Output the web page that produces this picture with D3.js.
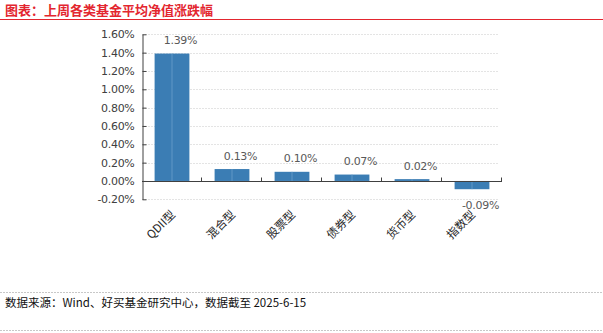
<!DOCTYPE html>
<html>
<head>
<meta charset="utf-8">
<script src="https://cdn.jsdelivr.net/npm/d3@7/dist/d3.min.js"></script>
<style>
  html, body { margin: 0; padding: 0; background: #fff; }
  svg { display: block; font-family: "Microsoft YaHei", "Noto Sans CJK SC", sans-serif; }
</style>
</head>
<body>
<svg id="chart" width="603" height="333"></svg>
<script>
// Fund categories and their weekly average NAV change (%)
const categories = ["QDII型", "混合型", "股票型", "债券型", "货币型", "指数型"];
const values = [1.39, 0.13, 0.10, 0.07, 0.02, -0.09];
const yTicks = [-0.2, 0, 0.2, 0.4, 0.6, 0.8, 1.0, 1.2, 1.4, 1.6];

const titleText = "图表：上周各类基金平均净值涨跌幅";
const sourceText = "数据来源：Wind、好买基金研究中心，数据截至 2025-6-15";

const svg = d3.select("#chart");
const plot = { left: 142, right: 502, top: 34.3, bottom: 199.3 };

const x = d3.scaleBand().domain(categories).range([plot.left, plot.right]).paddingInner(0.42).paddingOuter(0.21);
const xBand = d3.scaleBand().domain(categories).range([plot.left, plot.right]);
const y = d3.scaleLinear().domain([-0.2, 1.6]).range([plot.bottom, plot.top]);
const fmt = v => v.toFixed(2) + "%";

// Title and red rule
svg.append("text").attr("x", 5).attr("y", 14.5)
  .attr("fill", "#e3262f").attr("font-size", 13).attr("font-weight", "bold")
  .text(titleText);
svg.append("line").attr("x1", 0).attr("x2", 603).attr("y1", 19.5).attr("y2", 19.5)
  .attr("stroke", "#e3262f").attr("stroke-width", 1);

// Horizontal gridlines
svg.append("g").selectAll("line").data(yTicks.filter(d => d !== 0)).join("line")
  .attr("x1", plot.left).attr("x2", plot.right - 4)
  .attr("y1", d => Math.round(y(d)) + 0.5).attr("y2", d => Math.round(y(d)) + 0.5)
  .attr("stroke", "#e4e4e4").attr("stroke-width", 1).attr("stroke-dasharray", "2,1");

// Y axis
const yAxis = d3.axisLeft(y).tickValues(yTicks).tickFormat(fmt).tickSize(4).tickSizeOuter(0);
const gy = svg.append("g").attr("transform", `translate(${plot.left + 0.5},0)`).call(yAxis);
gy.select(".domain").attr("stroke", "#404040");
gy.selectAll(".tick line").attr("stroke", "#404040").attr("x2", 4);
gy.selectAll(".tick text").attr("x", -8).attr("fill", "#404040")
  .attr("font-size", 11).attr("font-family", "'DejaVu Sans', sans-serif").attr("letter-spacing", "-0.3");

// Bars
const barColor = "#3b7db4";
const bars = svg.append("g").selectAll("g").data(categories.map((c, i) => ({ c, v: values[i] }))).join("g");
bars.append("rect")
  .attr("x", d => x(d.c)).attr("width", x.bandwidth())
  .attr("y", d => y(Math.max(0, d.v)))
  .attr("height", d => Math.abs(y(d.v) - y(0)))
  .attr("fill", barColor);
bars.append("line")
  .attr("x1", d => x(d.c) + x.bandwidth() / 2).attr("x2", d => x(d.c) + x.bandwidth() / 2)
  .attr("y1", d => y(Math.max(0, d.v))).attr("y2", d => y(Math.min(0, d.v)))
  .attr("stroke", "#6a9fcb").attr("stroke-width", 0.8);

// Value labels
bars.append("text")
  .attr("x", d => x(d.c) + x.bandwidth() / 2 + 8.5)
  .attr("y", d => d.v >= 0 ? y(d.v) - 9.5 : y(d.v) + 19.5)
  .attr("text-anchor", "middle").attr("fill", "#595959")
  .attr("font-size", 11).attr("font-family", "'DejaVu Sans', sans-serif").attr("letter-spacing", "-0.3")
  .text(d => fmt(d.v));

// X axis at zero with ticks between categories
const zy = Math.round(y(0)) + 0.5;
svg.append("line").attr("x1", plot.left).attr("x2", plot.right).attr("y1", zy).attr("y2", zy)
  .attr("stroke", "#404040").attr("stroke-width", 1);
const bounds = categories.map(c => xBand(c)).slice(1).concat([plot.right]);
svg.append("g").selectAll("line").data(bounds).join("line")
  .attr("x1", d => Math.round(d) - 0.5).attr("x2", d => Math.round(d) - 0.5)
  .attr("y1", zy - 4).attr("y2", zy)
  .attr("stroke", "#404040");

// Rotated category labels
svg.append("g").selectAll("text").data(categories).join("text")
  .attr("transform", c => `translate(${xBand(c) + xBand.bandwidth() / 2 + 4},${plot.bottom + 16}) rotate(-45)`)
  .attr("text-anchor", "end").attr("fill", "#262626").attr("font-size", 11.5)
  .text(c => c);

// Footer
svg.append("line").attr("x1", 0).attr("x2", 603).attr("y1", 292.5).attr("y2", 292.5)
  .attr("stroke", "#c8c8c8").attr("stroke-dasharray", "2,1");
svg.append("text").attr("x", 5).attr("y", 307).attr("fill", "#111")
  .attr("font-size", 11.5).text(sourceText);
svg.append("line").attr("x1", 0).attr("x2", 603).attr("y1", 330.5).attr("y2", 330.5)
  .attr("stroke", "#c8c8c8").attr("stroke-dasharray", "2,1");
</script>
</body>
</html>
